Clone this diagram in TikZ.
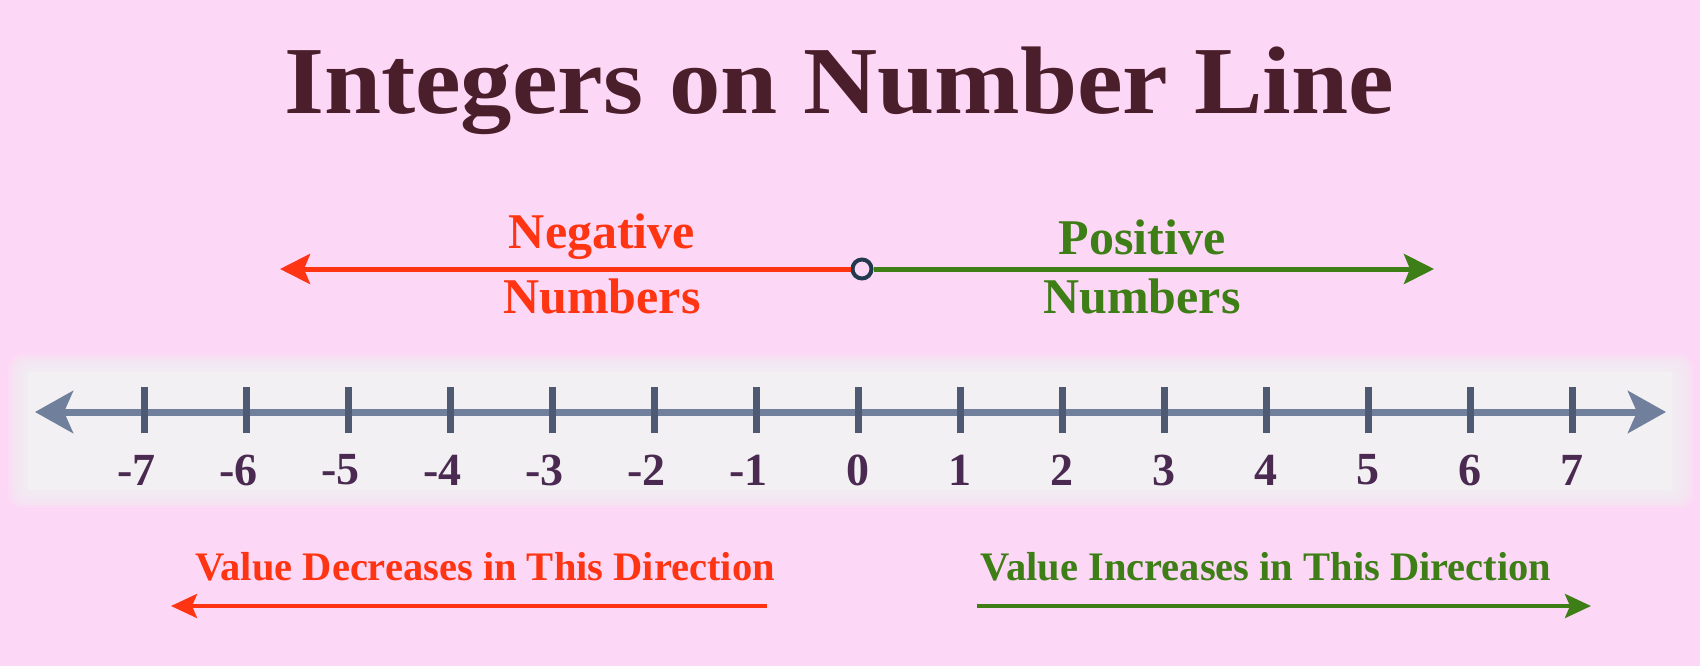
\documentclass[tikz,border=0pt]{standalone}
\usepackage{fontspec}
\setmainfont{Liberation Serif}
\usetikzlibrary{arrows.meta}
\definecolor{bgpink}{RGB}{253,215,246}
\definecolor{bandgray}{RGB}{242,240,242}
\definecolor{negred}{RGB}{255,52,18}
\definecolor{posgreen}{RGB}{62,126,22}
\definecolor{titlecol}{RGB}{74,31,43}
\definecolor{numcol}{RGB}{75,42,82}
\definecolor{linecol}{RGB}{112,127,155}
\definecolor{tickcol}{RGB}{78,89,114}
\definecolor{circcol}{RGB}{35,57,77}
\tikzset{
  numline/.style={draw=linecol, line width=7, {Stealth[length=38, width=42, inset=9]}-{Stealth[length=38, width=42, inset=9]}},
  tickmark/.style={draw=tickcol, line width=7},
  numlab/.style={text=numcol, font=\fontsize{46}{52}\selectfont\bfseries, inner sep=0},
  redarrow/.style={draw=negred, line width=5, -{Stealth[length=30, width=30, inset=6]}},
  greenarrow/.style={draw=posgreen, line width=5, -{Stealth[length=30, width=30, inset=6]}},
  redarrowthin/.style={draw=negred, line width=4, -{Stealth[length=26, width=24, inset=5]}},
  greenarrowthin/.style={draw=posgreen, line width=4, -{Stealth[length=26, width=24, inset=5]}},
  neglab/.style={text=negred, font=\fontsize{50}{58}\selectfont\bfseries, inner sep=0},
  poslab/.style={text=posgreen, font=\fontsize{50}{58}\selectfont\bfseries, inner sep=0},
  negdir/.style={text=negred, font=\fontsize{40.5}{48}\selectfont\bfseries, inner sep=0},
  posdir/.style={text=posgreen, font=\fontsize{40.5}{48}\selectfont\bfseries, inner sep=0},
  titlestyle/.style={text=titlecol, font=\fontsize{96}{110}\selectfont\bfseries, inner sep=0, xscale=1.07},
}
\begin{document}
\begin{tikzpicture}[x=1pt, y=-1pt]
\useasboundingbox (0,0) rectangle (1700,666);
\fill[bgpink] (0,0) rectangle (1700,666);
% blurred gray band
\foreach \i in {0,...,11} {
  \fill[bandgray, opacity=0.18, rounded corners=14] (8+\i*1.6,354+\i*1.4) rectangle (1694-\i*1.6,508-\i*1.4);
}
\fill[bandgray] (28,372) rectangle (1672,490);
% title
\node[titlestyle] (title) at (839,91) {Integers on Number Line};
% top arrows
\node[circle, draw=circcol, line width=4, fill=bgpink, minimum size=19, inner sep=0] (O) at (862,269) {};
\coordinate (NL) at (280,269);
\coordinate (PR) at (1434,269);
\draw[redarrow] (O.west) -- (NL);
\draw[greenarrow] (O.east) -- (PR);
\node[neglab] (neg1) at (602,237) {Negative};
\node[neglab] (neg2) at (602,296) {Numbers};
\node[poslab] (pos1) at (1142,237) {Positive};
\node[poslab] (pos2) at (1142,296) {Numbers};
% number line
\coordinate (L) at (35,412);
\coordinate (R) at (1666,412);
\draw[numline] (L) -- (R);
\foreach \n in {-7,...,7} {
  \coordinate (t\n) at ({858+102*\n},410);
  \draw[tickmark] ([yshift=23]t\n) -- ([yshift=-23]t\n);
  \pgfmathtruncatemacro\absn{abs(\n)}
  \node[numlab] (n\n) at ({858+102*\n},470) {\ifnum\n<0 \llap{-}\fi\absn};
}
% bottom directions
\node[negdir] (dec) at (485,567) {Value Decreases in This Direction};
\node[posdir] (inc) at (1266,567) {Value Increases in This Direction};
\coordinate (decA) at (767,606);
\coordinate (decB) at (171,606);
\coordinate (incA) at (977,606);
\coordinate (incB) at (1591,606);
\draw[redarrowthin] (decA) -- (decB);
\draw[greenarrowthin] (incA) -- (incB);
\end{tikzpicture}
\end{document}
